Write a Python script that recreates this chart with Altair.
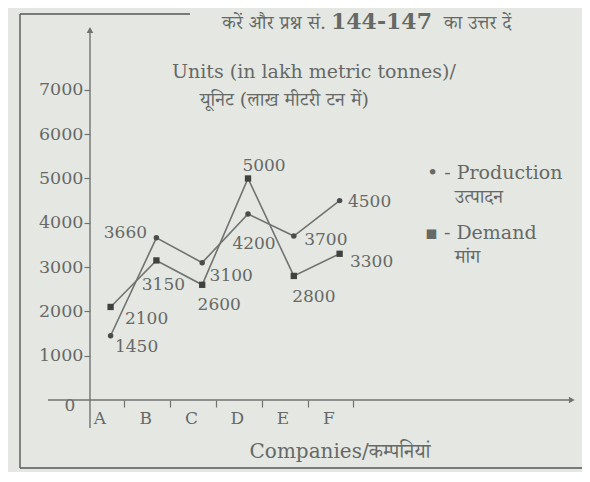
import altair as alt
import pandas as pd

# ---- data ----
categories = ["A", "B", "C", "D", "E", "F"]
production = [1450, 3660, 3100, 4200, 3700, 4500]
demand = [2100, 3150, 2600, 5000, 2800, 3300]
y_ticks = [1000, 2000, 3000, 4000, 5000, 6000, 7000]

# ---- styling (kept separate from the data) ----
FONT = "DejaVu Serif, Noto Serif Devanagari, Noto Sans Devanagari, serif"
INK = "#666966"
LINE = "#707370"
BG = "#e4e7e2"
W, H = 562, 454
X_POS0 = 0.45          # category i sits at i + X_POS0
xs = alt.Scale(domain=[-1.528, 10.742], nice=False, zero=False)
ys = alt.Scale(domain=[-1535, 8712], nice=False, zero=False)

# label offsets in pixels (dx, dy) per series / category
prod_off = [(26, 11), (-31, -5), (29, 13), (6, 30), (32, 4), (30, 1)]
dem_off = [(36, 12), (7, 25), (17, 20), (16, -12), (20, 21), (32, 8)]

rows = []
for i, c in enumerate(categories):
    rows.append({"cat": c, "x": i + X_POS0, "v": production[i], "series": "Production"})
    rows.append({"cat": c, "x": i + X_POS0, "v": demand[i], "series": "Demand"})
df = pd.DataFrame(rows)

label_expr = "[" + ",".join(f"'{c}'" for c in categories) + "][floor(datum.value)]"

xaxis = alt.Axis(orient="bottom", offset=-68, values=[i + 0.75 for i in range(len(categories))],
                 labelExpr=label_expr, labelOffset=-25, domain=False, grid=False,
                 tickSize=7, tickColor=LINE, tickWidth=1.2, labelFont=FONT, labelFontSize=17,
                 labelColor=INK, labelPadding=3, title=None)
yaxis = alt.Axis(orient="left", offset=-70, values=y_ticks, format="d", domain=False, grid=False,
                 tickSize=6, tickColor=LINE, tickWidth=1.2, labelFont=FONT, labelFontSize=17.5,
                 labelColor=INK, labelPadding=1, title=None)

X = alt.X("x:Q", scale=xs, axis=xaxis)
Y = alt.Y("v:Q", scale=ys, axis=yaxis)

base = alt.Chart(df)

lines = base.mark_line(color=LINE, strokeWidth=1.6).encode(
    x=X, y=Y, detail="series:N")
prod_pts = base.transform_filter(alt.datum.series == "Production").mark_point(
    shape="circle", filled=True, color="#4a4d4a", size=30, opacity=1).encode(x=X, y=Y)
dem_pts = base.transform_filter(alt.datum.series == "Demand").mark_point(
    shape="square", filled=True, color="#3f423f", size=40, opacity=1).encode(x=X, y=Y)

# axis lines with arrows
axes_df = pd.DataFrame([
    {"x": 0.0, "v": -632, "x2": 0.0, "v2": 8351},
    {"x": -0.917, "v": 0, "x2": 10.52, "v2": 0},
])
axis_lines = alt.Chart(axes_df).mark_rule(color=LINE, strokeWidth=1.4).encode(
    x=X, y=Y, x2="x2:Q", y2="v2:Q")
arrow_up = alt.Chart(pd.DataFrame([{"x": 0.0, "v": 8351}])).mark_point(
    shape="triangle-up", filled=True, color=LINE, size=45, opacity=1).encode(x=X, y=Y)
arrow_right = alt.Chart(pd.DataFrame([{"x": 10.52, "v": 0}])).mark_point(
    shape="triangle-right", filled=True, color=LINE, size=45, opacity=1).encode(x=X, y=Y)

# value labels
label_layers = []
for series, offs in (("Production", prod_off), ("Demand", dem_off)):
    for i, c in enumerate(categories):
        dx, dy = offs[i]
        label_layers.append(
            base.transform_filter((alt.datum.series == series) & (alt.datum.cat == c))
            .mark_text(font=FONT, fontSize=17, color=INK, dx=dx, dy=dy)
            .encode(x=X, y=Y, text="v:Q")
        )

def txt(s, x, y, size=19, align="left", weight="normal", baseline="middle"):
    return alt.Chart(pd.DataFrame([{"t": s}])).mark_text(
        font=FONT, fontSize=size, color=INK, align=align, baseline=baseline, fontWeight=weight
    ).encode(x=alt.value(x), y=alt.value(y), text="t:N")

texts = [
    txt("Units (in lakh metric tonnes)/", 152, 58),
    txt("यूनिट (लाख मीटरी टन में)", 180, 86),
    txt("• - Production", 407, 159),
    txt("उत्पादन", 435, 183),
    txt("▪ - Demand", 405, 219),
    txt("मांग", 435, 243),
    txt("Companies/कम्पनियां", 320, 438, size=20, align="center"),
    txt("0", 50, 392, size=17, align="center"),
    txt("करें और प्रश्न सं.", 306, 15, size=19, align="right", baseline="alphabetic"),
    txt("144-147", 311, 15, size=22, weight="bold", baseline="alphabetic"),
    txt("का उत्तर दें", 424, 15, size=19, baseline="alphabetic"),
]

FR = "#555855"
one = pd.DataFrame([{"k": 1}])
frame = [
    alt.Chart(one).mark_rule(color=FR, strokeWidth=1.4).encode(
        x=alt.value(0), y=alt.value(0), y2=alt.value(H)),
    alt.Chart(one).mark_rule(color=FR, strokeWidth=1.4).encode(
        x=alt.value(0), x2=alt.value(170), y=alt.value(0)),
    alt.Chart(one).mark_rule(color=FR, strokeWidth=1.4).encode(
        x=alt.value(0), x2=alt.value(W), y=alt.value(H)),
]

chart = alt.layer(
    *frame, axis_lines, arrow_up, arrow_right, lines, prod_pts, dem_pts, *label_layers, *texts
).properties(
    width=W, height=H, background=BG,
    padding={"left": 12, "top": 6, "right": 0, "bottom": 4},
    autosize=alt.AutoSizeParams(type="none"),
).configure_view(stroke=None)

chart.save("out.html", embed_options={"renderer": "svg", "actions": False})
